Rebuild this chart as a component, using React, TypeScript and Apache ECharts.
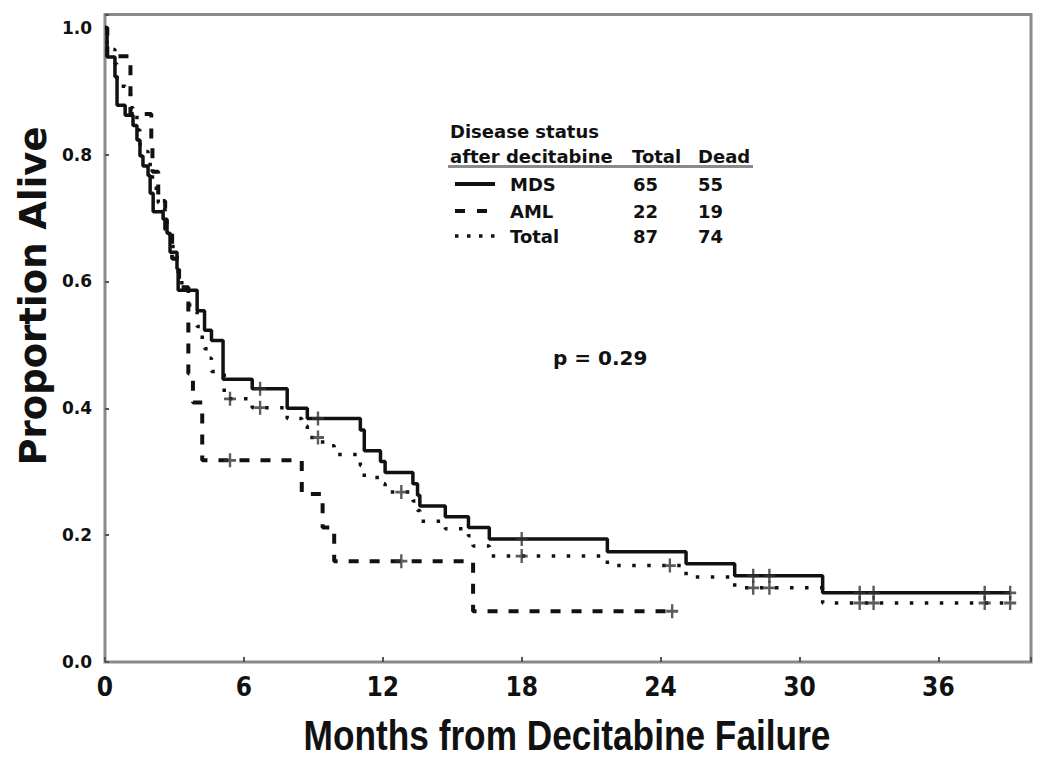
import React, { useEffect, useRef } from "react";
import * as echarts from "echarts";

// ---- Data ----
const mdsTimes = [0, 0.09, 0.43, 0.52, 0.87, 1.21, 1.38, 1.51, 1.64, 1.86, 1.95, 2.08, 2.51, 2.68, 2.81, 3.11, 3.16, 3.98, 4.3, 4.6, 5.1, 6.36, 7.87, 8.74, 11.03, 11.2, 11.9, 12.1, 13.3, 13.5, 13.6, 14.7, 15.7, 16.6, 21.7, 25.1, 27.2, 31.0, 39.1];
const mdsSurv = [1.0, 0.954, 0.923, 0.878, 0.862, 0.846, 0.823, 0.798, 0.782, 0.767, 0.739, 0.71, 0.698, 0.676, 0.646, 0.62, 0.586, 0.554, 0.523, 0.507, 0.446, 0.431, 0.4, 0.384, 0.366, 0.333, 0.316, 0.299, 0.281, 0.263, 0.246, 0.229, 0.212, 0.194, 0.174, 0.155, 0.136, 0.109, 0.109];
const mdsCensor = [6.7, 9.2, 18.0, 28.0, 28.7, 32.6, 33.2, 38.0, 39.1];

const amlTimes = [0, 0.1, 1.1, 2.0, 2.05, 2.3, 2.6, 2.9, 3.2, 3.6, 3.8, 4.2, 8.5, 9.4, 9.9, 15.9, 24.5];
const amlSurv = [1.0, 0.955, 0.864, 0.818, 0.773, 0.727, 0.682, 0.636, 0.591, 0.455, 0.409, 0.318, 0.265, 0.212, 0.159, 0.08, 0.08];
const amlCensor = [5.4, 12.8, 24.5];

const totTimes = [0, 0.09, 0.43, 0.52, 0.87, 1.1, 1.21, 1.38, 1.51, 1.64, 1.86, 1.95, 2.05, 2.3, 2.51, 2.6, 2.68, 2.81, 2.9, 3.11, 3.16, 3.2, 3.6, 3.8, 3.98, 4.2, 4.3, 4.45, 4.6, 5.15, 6.36, 7.87, 8.5, 8.74, 9.4, 9.9, 11.03, 11.2, 11.9, 12.1, 13.3, 13.5, 13.6, 14.7, 15.7, 15.9, 16.6, 21.7, 25.1, 27.2, 31.0, 39.1];
const totSurv = [1.0, 0.966, 0.943, 0.908, 0.897, 0.874, 0.862, 0.839, 0.816, 0.805, 0.793, 0.77, 0.747, 0.724, 0.713, 0.701, 0.69, 0.667, 0.655, 0.632, 0.609, 0.598, 0.563, 0.552, 0.529, 0.506, 0.494, 0.479, 0.458, 0.415, 0.401, 0.384, 0.372, 0.354, 0.341, 0.327, 0.31, 0.291, 0.281, 0.268, 0.254, 0.239, 0.222, 0.21, 0.199, 0.183, 0.167, 0.152, 0.134, 0.117, 0.093, 0.093];
const totCensor = [5.4, 6.7, 9.2, 12.8, 18.0, 24.4, 28.0, 28.7, 32.6, 33.2, 38.0, 39.1];

const legendRows = ["MDS", "AML", "Total"];
const legendTotals = ["65", "22", "87"];
const legendDead = ["55", "19", "74"];
const pValueText = "p = 0.29";

const xTitle = "Months from Decitabine Failure";
const yTitle = "Proportion Alive";

function levelAt(times: number[], surv: number[], t: number) {
  let v = surv[0];
  for (let i = 0; i < times.length; i++) {
    if (times[i] <= t) v = surv[i];
  }
  return v;
}

const PLUS = "path://M4,0 H6 V4 H10 V6 H6 V10 H4 V6 H0 V4 H4 Z";
const INK = "#111";
const FRAME = "#8a8a8a";
const DJ = "'DejaVu Sans', 'Liberation Sans', sans-serif";

export default function App() {
  const ref = useRef<HTMLDivElement>(null);
  useEffect(() => {
    if (!ref.current) return;
    const chart = echarts.init(ref.current, undefined, { renderer: "svg" });

    const stepLine = (name: string, times: number[], surv: number[], lineStyle: any, z: number) => ({
      name,
      type: "line",
      step: "end",
      symbol: "none",
      z,
      data: times.map((t, i) => [t, surv[i]]),
      lineStyle: { color: INK, cap: "butt", ...lineStyle },
    });
    const censor = (name: string, ct: number[], times: number[], surv: number[], z: number) => ({
      name: name + " censored",
      type: "scatter",
      symbol: PLUS,
      symbolSize: [12, 14],
      z,
      itemStyle: { color: "#333" },
      data: ct.map((t) => [t, levelAt(times, surv, t)]),
    });

    const lx = 455; // legend sample left
    const rowY = [184, 211, 236];
    const legendGraphics: any[] = [];
    const txt = (text: string, x: number, y: number, size = 18, align = "left") => ({
      type: "text",
      x,
      y,
      style: {
        text,
        fill: INK,
        fontSize: size,
        fontWeight: "bold",
        fontFamily: DJ,
        textAlign: align,
        align,
        textVerticalAlign: "middle",
        verticalAlign: "middle",
      },
    });
    legendGraphics.push(txt("Disease status", 450, 131));
    legendGraphics.push(txt("after decitabine", 450, 156));
    legendGraphics.push(txt("Total", 632, 156));
    legendGraphics.push(txt("Dead", 698, 156));
    legendGraphics.push({ type: "rect", shape: { x: 448, y: 165, width: 305, height: 3 }, style: { fill: FRAME } });
    const sampleStyles = [
      { lineWidth: 4, lineDash: null },
      { lineWidth: 4, lineDash: [10, 12] },
      { lineWidth: 3.5, lineDash: [3.5, 8.5] },
    ];
    legendRows.forEach((r, i) => {
      legendGraphics.push({
        type: "line",
        shape: { x1: lx, y1: rowY[i], x2: lx + 40, y2: rowY[i] },
        style: { stroke: INK, lineWidth: sampleStyles[i].lineWidth, lineDash: sampleStyles[i].lineDash, lineCap: "butt" },
      });
      legendGraphics.push(txt(r, 510, rowY[i]));
      legendGraphics.push(txt(legendTotals[i], 633, rowY[i]));
      legendGraphics.push(txt(legendDead[i], 698, rowY[i]));
    });

    chart.setOption({
      animation: false,
      backgroundColor: "#fff",
      grid: {
        left: 105,
        right: 19,
        top: 14.5,
        bottom: 108,
        show: true,
        borderColor: FRAME,
        borderWidth: 3,
        containLabel: false,
      },
      xAxis: {
        type: "value",
        min: 0,
        max: 40,
        interval: 6,
        axisLine: { show: false },
        splitLine: { show: false },
        axisTick: { show: true, inside: true, length: 5, lineStyle: { color: "#555", width: 2 } },
        axisLabel: {
          margin: 12,
          color: INK,
          fontSize: 26,
          fontWeight: "bold",
          fontFamily: "'Liberation Sans Narrow', 'Arial Narrow', 'DejaVu Sans Condensed', 'Liberation Sans', sans-serif",
          formatter: (v: number) => (v % 6 === 0 ? String(v) : ""),
        },
      },
      yAxis: {
        type: "value",
        min: 0,
        max: 1.021,
        interval: 0.2,
        axisLine: { show: false },
        splitLine: { show: false },
        axisTick: { show: true, inside: true, length: 4, lineStyle: { color: "#555", width: 2 } },
        axisLabel: {
          margin: 13,
          color: INK,
          fontSize: 17,
          fontWeight: "bold",
          fontFamily: DJ,
          formatter: (v: number) => (Math.abs(v * 5 - Math.round(v * 5)) < 1e-6 ? v.toFixed(1) : ""),
        },
      },
      graphic: [
        {
          type: "text",
          x: 33,
          y: 296,
          rotation: Math.PI / 2,
          style: {
            text: yTitle,
            fill: INK,
            fontSize: 37,
            fontWeight: "bold",
            fontFamily: DJ,
            textAlign: "center",
            align: "center",
            textVerticalAlign: "middle",
            verticalAlign: "middle",
          },
        },
        {
          type: "text",
          x: 567,
          y: 735,
          scaleX: 0.82,
          style: {
            text: xTitle,
            fill: INK,
            fontSize: 43,
            fontWeight: "bold",
            fontFamily: "'Liberation Sans', Arial, sans-serif",
            textAlign: "center",
            align: "center",
            textVerticalAlign: "middle",
            verticalAlign: "middle",
          },
        },
        txt(pValueText, 553, 358, 20),
        ...legendGraphics,
      ],
      series: [
        stepLine("Total", totTimes, totSurv, { width: 3.5, type: [3.5, 11.5] }, 2),
        stepLine("AML", amlTimes, amlSurv, { width: 4, type: [10, 11] }, 3),
        stepLine("MDS", mdsTimes, mdsSurv, { width: 3.5, type: "solid" }, 4),
        censor("Total", totCensor, totTimes, totSurv, 5),
        censor("AML", amlCensor, amlTimes, amlSurv, 5),
        censor("MDS", mdsCensor, mdsTimes, mdsSurv, 5),
      ],
    });
    return () => chart.dispose();
  }, []);
  return <div ref={ref} style={{ position: "absolute", left: 0, top: 0, width: 1050, height: 770, background: "#fff" }} />;
}
